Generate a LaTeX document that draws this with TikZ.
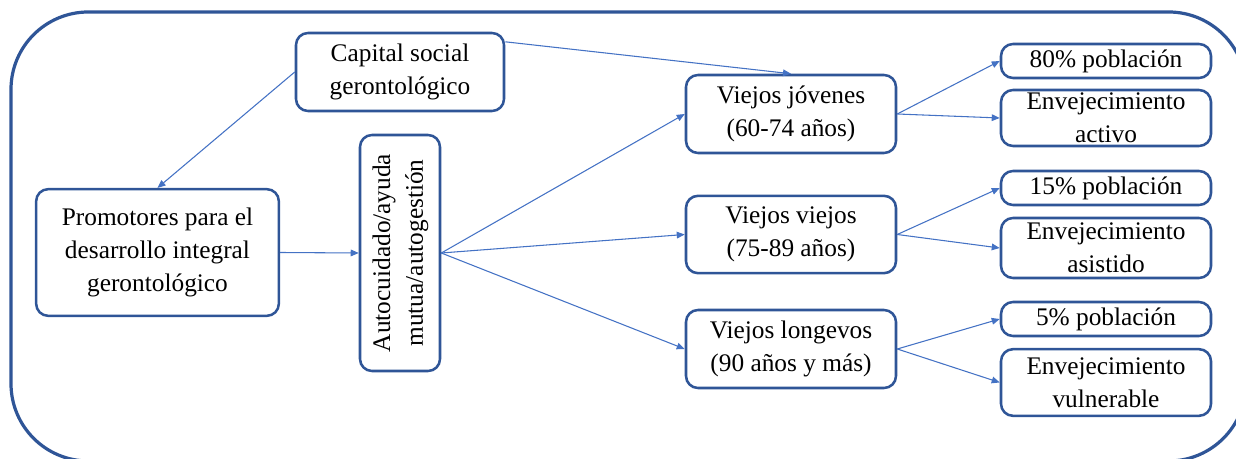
\documentclass[tikz,border=0pt]{standalone}
\usepackage{fontspec}
\setmainfont{Liberation Serif}
\usetikzlibrary{arrows.meta}
\definecolor{frameblue}{HTML}{2F5597}
\definecolor{linkblue}{HTML}{4472C4}

\begin{document}
\begin{tikzpicture}[x=0.75pt,y=-0.75pt,
  box/.style={draw=frameblue, line width=1.9pt, rounded corners=9pt,
    align=center, inner sep=0pt, fill=white,
    font=\fontsize{19}{24.5}\selectfont},
  link/.style={draw=linkblue, line width=0.8pt,
    -{Triangle[length=6pt,width=5pt]}}]
\useasboundingbox (0,0) rectangle (1236,459);

% outer frame, its right side runs just past the edge
\begin{scope}
  \clip (0,0) rectangle (1236,459);
  \draw[frameblue, line width=2.4pt, rounded corners=58pt]
    (11,12) rectangle (1246,461);
\end{scope}

% left part
\node[box, minimum width=156pt, minimum height=58.5pt] (cap) at (400,72)
  {Capital social\\gerontológico};
\node[box, minimum width=182pt, minimum height=95pt] (prom) at (157.5,252.5)
  {Promotores para el\\desarrollo integral\\gerontológico};
\node[box, minimum width=60pt, minimum height=177pt] (auto) at (400,253)
  {\rotatebox{90}{\begin{tabular}{@{}c@{}}Autocuidado/ayuda\\mutua/autogestión\end{tabular}}};

% age groups
\node[box, minimum width=157.5pt, minimum height=58.5pt] (vj) at (791,114)
  {Viejos jóvenes\\(60-74 años)};
\node[box, minimum width=157.5pt, minimum height=58pt] (vv) at (791,234.5)
  {Viejos viejos\\(75-89 años)};
\node[box, minimum width=157.5pt, minimum height=58.5pt] (vl) at (791,349)
  {Viejos longevos\\(90 años y más)};

% outcomes
\node[box, minimum width=157.5pt, minimum height=25.5pt] (p80) at (1106,61)
  {80\% población};
\node[box, minimum width=157.5pt, minimum height=42pt] (ea) at (1106,118)
  {Envejecimiento\\activo};
\node[box, minimum width=157.5pt, minimum height=25.5pt] (p15) at (1106,188)
  {15\% población};
\node[box, minimum width=157.5pt, minimum height=45pt] (eas) at (1106,248)
  {Envejecimiento\\asistido};
\node[box, minimum width=157.5pt, minimum height=25.5pt] (p5) at (1106,319)
  {5\% población};
\node[box, minimum width=157.5pt, minimum height=50pt] (ev) at (1106,382.5)
  {Envejecimiento\\vulnerable};

% connectors
\draw[link] (cap.west) -- (prom.north);
\draw[link] (cap.16) -- (vj.north);
\draw[link] (prom.east) -- (auto.west);
\draw[link] (auto.east) -- (vj.west);
\draw[link] (auto.east) -- (vv.west);
\draw[link] (auto.east) -- (vl.west);
\draw[link] (vj.east) -- (p80.west);
\draw[link] (vj.east) -- (ea.west);
\draw[link] (vv.east) -- (p15.west);
\draw[link] (vv.east) -- (eas.west);
\draw[link] (vl.east) -- (p5.west);
\draw[link] (vl.east) -- (ev.west);
\end{tikzpicture}
\end{document}
